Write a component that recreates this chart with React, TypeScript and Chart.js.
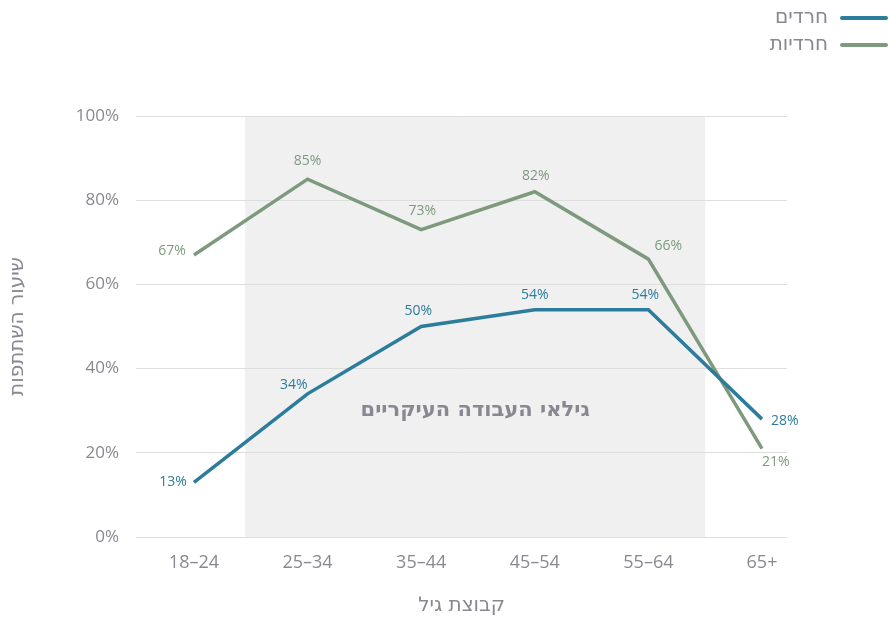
import React, { useEffect, useRef } from 'react';
import { Chart, registerables } from 'chart.js';

Chart.register(...registerables);

const ageGroups = ['18–24', '25–34', '35–44', '45–54', '55–64', '65+'];
const menValues = [13, 34, 50, 54, 54, 28];
const womenValues = [67, 85, 73, 82, 66, 21];
const seriesNames = ['חרדים', 'חרדיות'];
const yTickValues = [0, 20, 40, 60, 80, 100];
const bandStart = 0.45;
const bandEnd = 4.5;
const bandLabelY = 30;
const bandLabel = 'גילאי העבודה העיקריים';
const xTitle = 'קבוצת גיל';
const yTitle = 'שיעור השתתפות';

const BLUE = '#2c7c9b';
const GREEN = '#7e9a7e';
const TEXT = '#8b8792';
const FONT = "'Open Sans', 'DejaVu Sans', sans-serif";
const HFONT = "'DejaVu Sans', 'Open Sans', sans-serif";

// label placement (style): [dx, dy, align]
const menLabelPlacement: [number, number, CanvasTextAlign][] = [
  [-7, 0, 'right'], [0, -9, 'right'], [-3, -15, 'center'], [0, -15, 'center'], [-3, -15, 'center'], [9, 2, 'left'],
];
const womenLabelPlacement: [number, number, CanvasTextAlign][] = [
  [-8, -4, 'right'], [0, -18, 'center'], [1, -19, 'center'], [1, -16, 'center'], [6, -13, 'left'], [0, 13, 'left'],
];

export default function App() {
  const ref = useRef<HTMLCanvasElement | null>(null);

  useEffect(() => {
    if (!ref.current) return;

    const bandPlugin = {
      id: 'band',
      beforeDraw(chart: any) {
        const { ctx, chartArea, scales } = chart;
        const x1 = scales.x.getPixelForValue(bandStart);
        const x2 = scales.x.getPixelForValue(bandEnd);
        ctx.save();
        ctx.fillStyle = '#f0f0f0';
        ctx.fillRect(x1, chartArea.top, x2 - x1, chartArea.bottom - chartArea.top);
        ctx.restore();
      },
      beforeDatasetsDraw(chart: any) {
        const { ctx, scales } = chart;
        const x1 = scales.x.getPixelForValue(bandStart);
        const x2 = scales.x.getPixelForValue(bandEnd);
        ctx.save();
        ctx.fillStyle = TEXT;
        ctx.font = `bold 21px ${HFONT}`;
        ctx.textAlign = 'center';
        ctx.textBaseline = 'middle';
        ctx.fillText(bandLabel, (x1 + x2) / 2, scales.y.getPixelForValue(bandLabelY));
        ctx.restore();
      },
    };

    const labelsPlugin = {
      id: 'valueLabels',
      afterDatasetsDraw(chart: any) {
        const { ctx } = chart;
        const placements = [menLabelPlacement, womenLabelPlacement];
        chart.data.datasets.forEach((ds: any, di: number) => {
          const meta = chart.getDatasetMeta(di);
          meta.data.forEach((pt: any, i: number) => {
            const [dx, dy, align] = placements[di][i];
            ctx.save();
            ctx.fillStyle = ds.borderColor;
            ctx.font = `14px ${FONT}`;
            ctx.textAlign = align;
            ctx.textBaseline = 'middle';
            ctx.fillText(`${ds.data[i].y}%`, pt.x + dx, pt.y + dy);
            ctx.restore();
          });
        });
      },
    };

    const legendPlugin = {
      id: 'customLegend',
      afterDraw(chart: any) {
        const { ctx } = chart;
        chart.data.datasets.forEach((ds: any, i: number) => {
          const y = 18 + i * 27;
          ctx.save();
          ctx.strokeStyle = ds.borderColor;
          ctx.lineWidth = 4;
          ctx.lineCap = 'round';
          ctx.beginPath();
          ctx.moveTo(842, y);
          ctx.lineTo(886, y);
          ctx.stroke();
          ctx.fillStyle = TEXT;
          ctx.font = `20px ${HFONT}`;
          ctx.textAlign = 'right';
          ctx.textBaseline = 'middle';
          ctx.fillText(ds.label, 828, y);
          ctx.restore();
        });
      },
    };

    const chart = new Chart(ref.current, {
      type: 'line',
      data: {
        datasets: [
          {
            label: seriesNames[0],
            data: menValues.map((v, i) => ({ x: i, y: v })),
            borderColor: BLUE,
            backgroundColor: BLUE,
            borderWidth: 3.5,
            pointRadius: 0,
            tension: 0,
          },
          {
            label: seriesNames[1],
            data: womenValues.map((v, i) => ({ x: i, y: v })),
            borderColor: GREEN,
            backgroundColor: GREEN,
            borderWidth: 3.5,
            pointRadius: 0,
            tension: 0,
          },
        ],
      },
      options: {
        animation: false,
        responsive: false,
        layout: { padding: { top: 116, right: 102, left: 0, bottom: 0 } },
        plugins: {
          legend: { display: false },
          tooltip: { enabled: false },
        },
        scales: {
          x: {
            type: 'linear',
            min: -0.51,
            max: 5.22,
            grid: { display: false, drawTicks: false },
            border: { display: false },
            afterBuildTicks: (s: any) => {
              s.ticks = ageGroups.map((_, i) => ({ value: i }));
            },
            afterFit: (s: any) => {
              s.height = 81;
            },
            ticks: {
              padding: 15,
              color: TEXT,
              font: { family: FONT, size: 18 },
              callback: (v: any) => ageGroups[Math.round(Number(v))] ?? '',
              maxRotation: 0,
              autoSkip: false,
            },
            title: {
              display: true,
              text: xTitle,
              color: TEXT,
              font: { family: HFONT, size: 20 },
              padding: { top: 0, bottom: 0 },
            },
          },
          y: {
            min: 0,
            max: 100,
            grid: { color: '#dedede', lineWidth: 1, drawTicks: false },
            border: { display: false },
            afterBuildTicks: (s: any) => {
              s.ticks = yTickValues.map((v) => ({ value: v }));
            },
            afterFit: (s: any) => {
              s.width = 136;
            },
            ticks: {
              padding: 17,
              color: TEXT,
              font: { family: FONT, size: 17 },
              callback: (v: any) => `${v}%`,
            },
            title: {
              display: true,
              text: yTitle,
              color: TEXT,
              font: { family: HFONT, size: 20 },
              padding: { top: 6, bottom: 0 },
            },
          },
        },
      },
      plugins: [bandPlugin, labelsPlugin, legendPlugin],
    } as any);

    return () => chart.destroy();
  }, []);

  return (
    <div style={{ position: 'fixed', left: 0, top: 0, width: 889, height: 618, background: '#fff' }}>
      <canvas ref={ref} width={889} height={618} style={{ display: 'block', width: 889, height: 618 }} />
    </div>
  );
}
